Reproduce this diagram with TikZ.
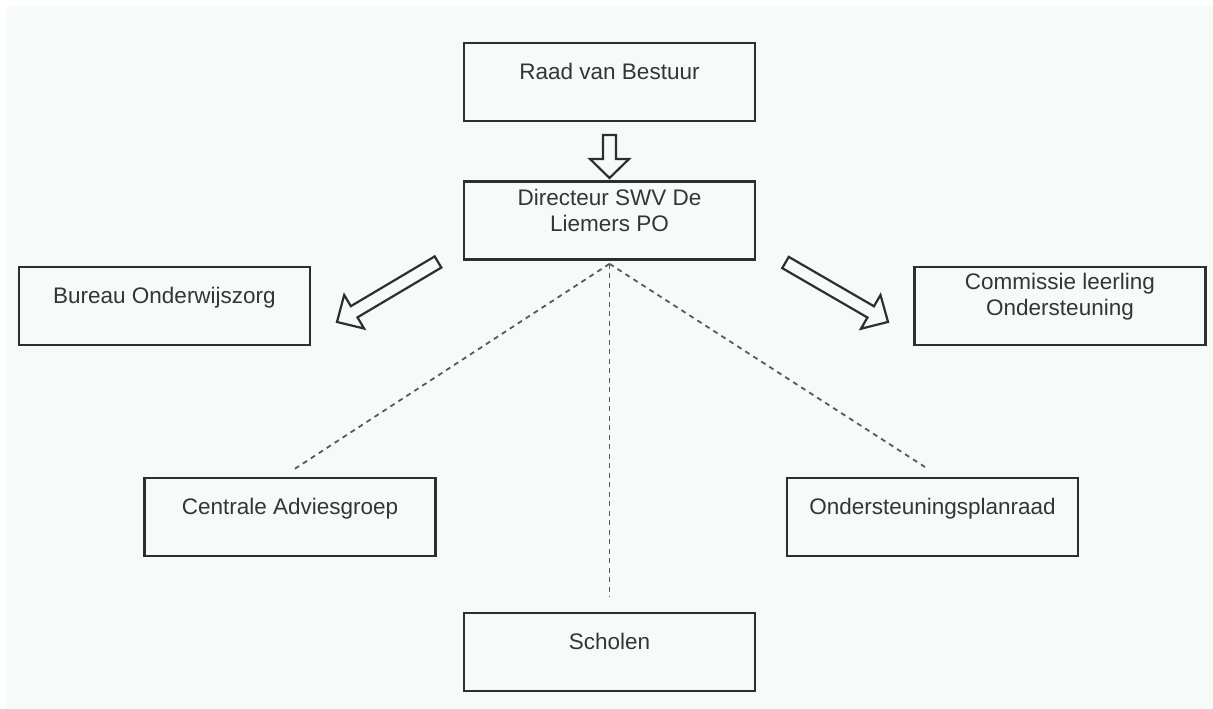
\documentclass[tikz,border=0pt]{standalone}
\usepackage{fontspec}
\setmainfont{Liberation Sans}
\definecolor{bgtint}{HTML}{F6FAF8}
\definecolor{boxline}{HTML}{2E2E2E}
\definecolor{txtcol}{HTML}{353535}
\definecolor{dashcol}{HTML}{5A5A5A}
\newcommand\hollowarrowX[4]{%
  \begin{scope}[shift={(#1)}, rotate=#2]
    \draw[harrow] (0,-6.5) -- ({#3-#4},-6.5) -- ({#3-#4},-19.5) -- (#3,0)
      -- ({#3-#4},19.5) -- ({#3-#4},6.5) -- (0,6.5) -- cycle;
  \end{scope}}
\begin{document}
\begin{tikzpicture}[x=1pt,y=-1pt,
  box/.style={draw=boxline, line width=2.6pt, minimum width=291pt, minimum height=78pt, inner sep=0pt},
  lbl/.style={font=\fontsize{22.5}{26}\selectfont, text=txtcol, inner sep=0pt, align=center},
  harrow/.style={draw=boxline, line width=2.2pt, fill=bgtint, line join=miter},
  dline/.style={draw=dashcol, line width=1.8pt, dash pattern=on 5pt off 4.5pt}]
\useasboundingbox (0,0) rectangle (1213,709);
\fill[white] (0,0) rectangle (1213,709);
\fill[bgtint] (7,6) rectangle (1213,709);

% boxes
\node[box] (raad) at (609.5,82) {};
\node[box] (dir) at (609.5,220.5) {};
\node[box] (bureau) at (164.5,306) {};
\node[box] (comm) at (1060,306) {};
\node[box] (centrale) at (290,517) {};
\node[box] (onder) at (932.5,517) {};
\node[box] (scholen) at (609.5,652) {};

% texts
\node[lbl, anchor=base] (raadT) at ([yshift=-38pt]raad.north) {Raad van Bestuur};
\node[lbl, anchor=center] (dirT) at ([yshift=-30pt]dir.north) {Directeur SWV De\\Liemers PO};
\node[lbl, anchor=base] (bureauT) at ([yshift=-38pt]bureau.north) {Bureau Onderwijszorg};
\node[lbl, anchor=center] (commT) at ([yshift=-31pt]comm.north) {Commissie leerling\\Ondersteuning};
\node[lbl, anchor=base] (centraleT) at ([yshift=-38pt]centrale.north) {Centrale Adviesgroep};
\node[lbl, anchor=base] (onderT) at ([yshift=-38pt]onder.north) {Ondersteuningsplanraad};
\node[lbl, anchor=base] (scholenT) at ([yshift=-38pt]scholen.north) {Scholen};

% dashed connectors
\coordinate (dirfoot) at ([yshift=-3pt]dir.south);
\coordinate (cEnd) at (293,470);
\coordinate (sEnd) at (609.5,597);
\coordinate (oEnd) at (925,467);
\draw[dline] (dirfoot) -- (cEnd);
\draw[dline] (dirfoot) -- (sEnd);
\draw[dline] (dirfoot) -- (oEnd);

% hollow arrows
\coordinate (arrD) at (609.5,135);
\coordinate (arrL) at (438,262);
\coordinate (arrR) at (785.5,262.5);
\hollowarrowX{arrD}{-90}{43}{19}
\hollowarrowX{arrL}{210.7}{117.5}{20}
\hollowarrowX{arrR}{-30.1}{118.5}{20}
\end{tikzpicture}
\end{document}
